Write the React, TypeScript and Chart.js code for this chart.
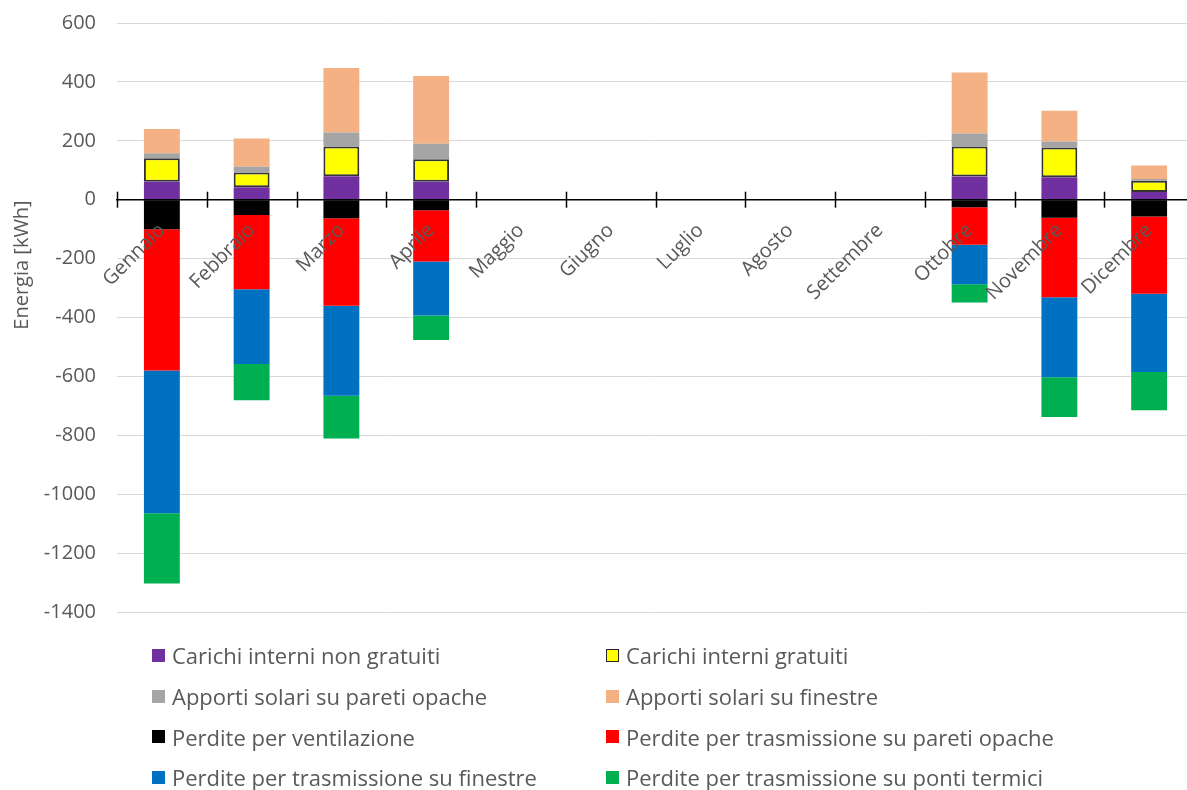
import React, { useEffect, useRef } from "react";
import { Chart, registerables } from "chart.js";

Chart.register(...registerables);

const FONT = "'Open Sans', sans-serif";
const TEXT = "#595959";

const months = [
  "Gennaio", "Febbraio", "Marzo", "Aprile", "Maggio", "Giugno",
  "Luglio", "Agosto", "Settembre", "Ottobre", "Novembre", "Dicembre",
];

const carichiNonGratuiti = [61, 42, 80, 61, null, null, null, null, null, 79, 76, 26];
const carichiGratuiti = [80, 50, 101, 76, null, null, null, null, null, 102, 101, 38];
const apportiPareti = [17, 20, 47, 53, null, null, null, null, null, 44, 21, 6];
const apportiFinestre = [82, 96, 219, 230, null, null, null, null, null, 207, 104, 46];
const perditeVentilazione = [-100, -52, -63, -36, null, null, null, null, null, -26, -61, -57];
const perditePareti = [-480, -252, -297, -174, null, null, null, null, null, -127, -270, -262];
const perditeFinestre = [-485, -254, -306, -183, null, null, null, null, null, -134, -272, -266];
const perditePonti = [-238, -123, -145, -83, null, null, null, null, null, -62, -135, -130];

const yTicks = [600, 400, 200, 0, -200, -400, -600, -800, -1000, -1200, -1400];
const yTitle = "Energia [kWh]";

const series = [
  { label: "Carichi interni non gratuiti", data: carichiNonGratuiti, color: "#7030A0", border: false },
  { label: "Carichi interni gratuiti", data: carichiGratuiti, color: "#FFFF00", border: true },
  { label: "Apporti solari su pareti opache", data: apportiPareti, color: "#A5A5A5", border: false },
  { label: "Apporti solari su finestre", data: apportiFinestre, color: "#F4B183", border: false },
  { label: "Perdite per ventilazione", data: perditeVentilazione, color: "#000000", border: false },
  { label: "Perdite per trasmissione su pareti opache", data: perditePareti, color: "#FF0000", border: false },
  { label: "Perdite per trasmissione su finestre", data: perditeFinestre, color: "#0070C0", border: false },
  { label: "Perdite per trasmissione su ponti termici", data: perditePonti, color: "#00B050", border: false },
];

const axisPlugin = {
  id: "axisExtras",
  afterDraw(chart: any) {
    const ctx = chart.ctx;
    const xs = chart.scales.x;
    const ys = chart.scales.y;
    const y0 = ys.getPixelForValue(0);
    ctx.save();
    ctx.strokeStyle = "#000";
    ctx.lineWidth = 1.5;
    for (let i = 0; i <= months.length; i++) {
      const px = Math.round(xs.getPixelForValue(i - 0.5)) + 0.5;
      ctx.beginPath();
      ctx.moveTo(px, y0 - 8);
      ctx.lineTo(px, y0 + 8);
      ctx.stroke();
    }
    ctx.restore();

    ctx.save();
    ctx.translate(22, 265);
    ctx.rotate(-Math.PI / 2);
    ctx.fillStyle = TEXT;
    ctx.font = `20px ${FONT}`;
    ctx.textAlign = "center";
    ctx.textBaseline = "middle";
    ctx.fillText(yTitle, 0, 0);
    ctx.restore();
  },
};

function App() {
  const ref = useRef<HTMLCanvasElement | null>(null);

  useEffect(() => {
    if (!ref.current) return;
    const chart = new Chart(ref.current, {
      type: "bar",
      data: {
        labels: months,
        datasets: series.map((s) => ({
          label: s.label,
          data: s.data,
          backgroundColor: s.color,
          borderColor: s.border ? "#333333" : s.color,
          borderWidth: s.border ? 2 : 0,
          borderSkipped: s.border ? false : "start",
          categoryPercentage: 0.8,
          barPercentage: 0.5,
        })),
      },
      options: {
        responsive: false,
        animation: false,
        layout: { padding: { left: 0, top: 23, right: 6, bottom: 28 } },
        plugins: {
          legend: { display: false },
          tooltip: { enabled: false },
        },
        scales: {
          x: {
            stacked: true,
            position: { y: 0 } as any,
            grid: { display: false, drawTicks: false },
            border: { display: true, color: "#000", width: 1.5, z: 1 },
            ticks: {
              color: TEXT,
              font: { family: FONT, size: 20 },
              maxRotation: 45,
              minRotation: 45,
              autoSkip: false,
              padding: 19,
              z: 1,
            },
            afterFit: (s: any) => {
              s.height = 0;
              s.paddingLeft = 0;
              s.paddingRight = 0;
              s.paddingTop = 0;
              s.paddingBottom = 0;
            },
          },
          y: {
            stacked: true,
            min: -1400,
            max: 600,
            afterBuildTicks: (s: any) => {
              s.ticks = yTicks.map((v) => ({ value: v }));
            },
            grid: {
              color: (c: any) => (c.tick && c.tick.value === 0 ? "rgba(0,0,0,0)" : "#D9D9D9"),
              lineWidth: 1,
              drawTicks: false,
            },
            border: { display: false },
            ticks: {
              color: TEXT,
              font: { family: FONT, size: 20 },
              padding: 21,
              callback: (v: any) => String(v),
            },
            afterFit: (s: any) => {
              s.width = 117;
              s.paddingTop = 0;
              s.paddingBottom = 0;
            },
          },
        },
      },
      plugins: [axisPlugin],
    });
    return () => chart.destroy();
  }, []);

  return (
    <div
      style={{
        position: "fixed",
        left: 0,
        top: 0,
        width: 1187,
        height: 790,
        overflow: "hidden",
        background: "#fff",
        fontFamily: FONT,
      }}
    >
      <canvas ref={ref} width={1200} height={640} style={{ position: "absolute", left: 0, top: 0 }} />
      <div
        style={{
          position: "absolute",
          left: 152,
          top: 635,
          display: "grid",
          gridTemplateColumns: "454px auto",
          gridAutoRows: "40.7px",
          fontSize: 22,
          color: TEXT,
        }}
      >
        {series.map((s) => (
          <div key={s.label} style={{ display: "flex", alignItems: "center", whiteSpace: "nowrap" }}>
            <span
              style={{
                display: "inline-block",
                width: s.border ? 11 : 13,
                height: s.border ? 11 : 13,
                background: s.color,
                border: s.border ? "1px solid #262626" : "none",
                marginRight: 7,
              }}
            />
            <span>{s.label}</span>
          </div>
        ))}
      </div>
    </div>
  );
}

export default App;
